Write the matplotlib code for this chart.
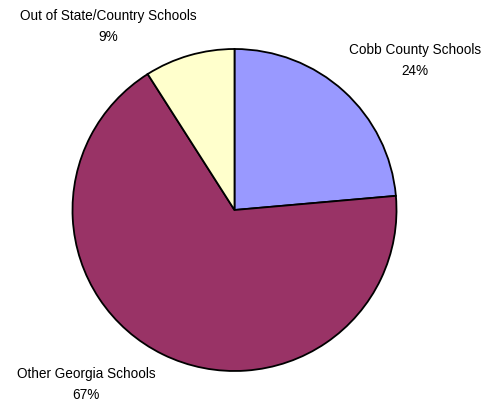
import matplotlib
matplotlib.use("Agg")
import matplotlib.pyplot as plt

categories = ["Cobb County Schools", "Other Georgia Schools", "Out of State/Country Schools"]
values = [23.6, 67.4, 9.0]
colors = ["#9999FF", "#993366", "#FFFFCC"]

W, H = 487, 403
fig = plt.figure(figsize=(W / 100, H / 100), dpi=100)
cx, cy, rx, ry = 234.5, 210, 162, 161
ax = fig.add_axes([(cx - rx) / W, (H - cy - ry) / H, 2 * rx / W, 2 * ry / H])
ax.pie(values, colors=colors, startangle=90, counterclock=False, radius=1,
       wedgeprops=dict(edgecolor="black", linewidth=1.3))
ax.set_aspect("auto")
ax.set_xlim(-1.0, 1.0)
ax.set_ylim(-1.0, 1.0)
ax.axis("off")

label_pos = {
    "Cobb County Schools": (415, 50),
    "Other Georgia Schools": (86, 374),
    "Out of State/Country Schools": (108, 16),
}
total = sum(values)
for cat, v in zip(categories, values):
    x, y = label_pos[cat]
    fig.text(x / W, 1 - y / H, cat, ha="center", va="center",
             fontsize=9.8, family="Liberation Sans")
    fig.text(x / W, 1 - (y + 21) / H, f"{round(100 * v / total)}%", ha="center", va="center",
             fontsize=9.8, family="Liberation Sans")

fig.savefig("out.png", dpi=100)
